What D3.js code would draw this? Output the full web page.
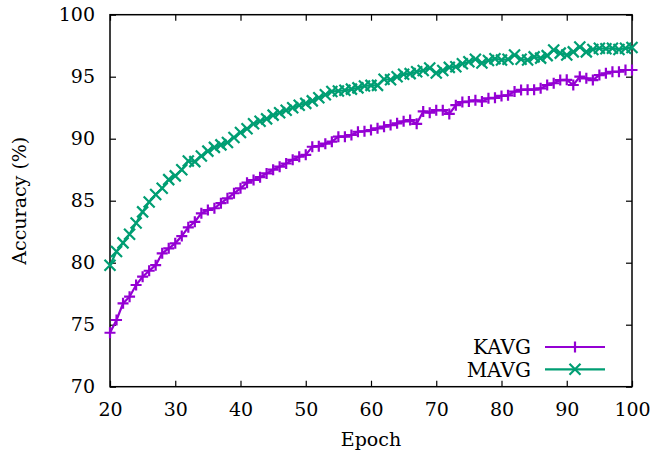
<!DOCTYPE html>
<html><head><meta charset="utf-8">
<script src="https://cdn.jsdelivr.net/npm/d3@7"></script>
<style>
html,body{margin:0;padding:0;background:#fff;}
svg text{fill:#000;}
</style></head>
<body><svg id="c" width="652" height="457"></svg>
<script>
const epochs = d3.range(20, 101);
const kavg = [74.35,75.38,76.72,77.26,78.2,78.87,79.35,79.8,80.76,81.16,
81.56,82.15,82.85,83.3,83.98,84.25,84.39,84.8,85.19,85.6,
86.0,86.45,86.67,86.9,87.2,87.5,87.74,88.0,88.3,88.55,
88.7,89.35,89.4,89.6,89.76,90.16,90.16,90.3,90.56,90.6,
90.7,90.84,90.97,91.1,91.24,91.4,91.5,91.2,92.2,92.1,
92.3,92.3,92.0,92.7,92.95,93.0,93.1,93.0,93.26,93.3,
93.45,93.5,93.8,93.93,93.95,93.95,94.06,94.33,94.47,94.73,
94.75,94.33,95.0,94.87,94.73,95.13,95.27,95.4,95.4,95.54,95.54];
const mavg = [79.8,80.9,81.6,82.3,83.2,84.1,84.9,85.5,86.0,86.7,
87.0,87.5,88.2,88.15,88.6,89.0,89.3,89.5,89.7,90.1,
90.5,90.8,91.2,91.4,91.6,91.9,92.1,92.3,92.5,92.7,
92.85,93.05,93.3,93.55,93.8,93.85,93.9,94.0,94.1,94.25,
94.3,94.3,94.8,94.75,95.0,95.2,95.25,95.4,95.5,95.7,
95.3,95.5,95.75,95.8,96.05,96.2,96.4,96.1,96.3,96.45,
96.35,96.4,96.75,96.4,96.35,96.6,96.5,96.7,97.15,96.9,
96.75,97.0,97.4,97.0,97.2,97.3,97.25,97.3,97.2,97.3,97.35];
const xTicks = [20,30,40,50,60,70,80,90,100];
const yTicks = [70,75,80,85,90,95,100];
const seriesNames = ["KAVG","MAVG"];
const colors = ["#9400d3","#009e73"];

const L=110, R=632, T=14.7, B=386.7;
const svg = d3.select("#c");
const x = d3.scaleLinear().domain([20,100]).range([L,R]);
const y = d3.scaleLinear().domain([70,100]).range([B,T]);

const fs = "19px";
const FF = "'DejaVu Serif', serif";
svg.append("g").attr("transform",`translate(0,${B})`)
  .call(d3.axisBottom(x).tickValues(xTicks).tickSizeInner(-6).tickSizeOuter(0).tickPadding(16))
  .call(g=>{g.select(".domain").remove(); g.selectAll("text").attr("font-size",fs);});
svg.append("g").attr("transform",`translate(0,${T})`)
  .call(d3.axisTop(x).tickValues(xTicks).tickSizeInner(-6).tickSizeOuter(0).tickFormat(""))
  .call(g=>g.select(".domain").remove());
svg.append("g").attr("transform",`translate(${L},0)`)
  .call(d3.axisLeft(y).tickValues(yTicks).tickSizeInner(-6).tickSizeOuter(0).tickPadding(15))
  .call(g=>{g.select(".domain").remove(); g.selectAll("text").attr("font-size",fs);});
svg.append("g").attr("transform",`translate(${R},0)`)
  .call(d3.axisRight(y).tickValues(yTicks).tickSizeInner(-6).tickSizeOuter(0).tickFormat(""))
  .call(g=>g.select(".domain").remove());
svg.selectAll("text").style("font-family",FF);
svg.selectAll(".tick line").attr("stroke","#000").attr("stroke-width",1.2);

svg.append("rect").attr("x",L).attr("y",T).attr("width",R-L).attr("height",B-T)
  .attr("fill","none").attr("stroke","#000").attr("stroke-width",1.5);

svg.append("text").attr("x",x(60)).attr("y",446).attr("text-anchor","middle")
  .attr("font-size",fs).style("font-family",FF).text("Epoch");
svg.append("text").attr("transform",`translate(26,${(T+B)/2}) rotate(-90)`)
  .attr("text-anchor","middle").attr("font-size",fs).style("font-family",FF).text("Accuracy (%)");

const s = 5.5;
function plus(g, cx, cy, c){
  g.append("path").attr("d",`M${cx-s},${cy}H${cx+s}M${cx},${cy-s}V${cy+s}`)
   .attr("stroke",c).attr("stroke-width",2.2).attr("fill","none");
}
function cross(g, cx, cy, c){
  g.append("path").attr("d",`M${cx-s},${cy-s}L${cx+s},${cy+s}M${cx-s},${cy+s}L${cx+s},${cy-s}`)
   .attr("stroke",c).attr("stroke-width",2.2).attr("fill","none");
}
const data = [kavg, mavg];
const markers = [plus, cross];
const line = d3.line().x((d,i)=>x(epochs[i])).y(d=>y(d));
data.forEach((vals, k)=>{
  const g = svg.append("g");
  g.append("path").datum(vals).attr("d",line).attr("fill","none")
    .attr("stroke",colors[k]).attr("stroke-width",2.2);
  vals.forEach((v,i)=>markers[k](g, x(epochs[i]), y(v), colors[k]));
});

const legY = [347, 369.3];
seriesNames.forEach((n,k)=>{
  svg.append("text").attr("x",531).attr("y",legY[k]).attr("dy","0.36em")
    .attr("text-anchor","end").attr("font-size","20px").style("font-family",FF).text(n);
  svg.append("line").attr("x1",545).attr("x2",605).attr("y1",legY[k]).attr("y2",legY[k])
    .attr("stroke",colors[k]).attr("stroke-width",2.2);
  markers[k](svg, 575, legY[k], colors[k]);
});
</script></body></html>
